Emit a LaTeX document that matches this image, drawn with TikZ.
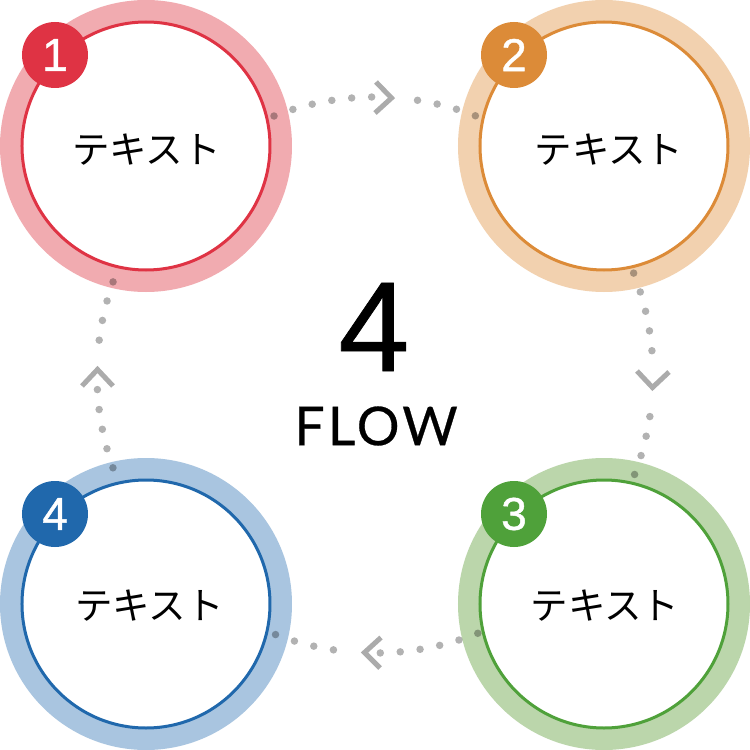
\documentclass[tikz,border=0pt]{standalone}
\usepackage{fontspec}
\setmainfont{Liberation Sans}
\newfontfamily\jpfont{Noto Sans CJK JP}
\newfontfamily\flowfont[LetterSpace=6,FakeBold=0.5]{Lato}
\newfontfamily\bigfont[FakeBold=0.6]{Liberation Sans}
\newfontfamily\badgefont[FakeBold=1]{Liberation Sans}
\definecolor{redD}{HTML}{DF3344}\definecolor{redL}{HTML}{F1ABB0}
\definecolor{oraD}{HTML}{DC8B38}\definecolor{oraL}{HTML}{F2D1AF}
\definecolor{greD}{HTML}{4FA13A}\definecolor{greL}{HTML}{BBD6AB}
\definecolor{bluD}{HTML}{2068AC}\definecolor{bluL}{HTML}{A9C5E0}
\definecolor{chev}{HTML}{ABABAB}
\tikzset{
  x=1pt,y=1pt,
  halo/.style={circle,fill=#1,draw=none,minimum size=292pt,inner sep=0pt,outer sep=0pt},
  ringin/.style={circle,fill=white,draw=#1,line width=3pt,minimum size=248pt,inner sep=0pt,outer sep=0pt},
  badge/.style={circle,fill=#1,draw=none,minimum size=66pt,inner sep=0pt,text=white,font=\badgefont\fontsize{46}{46}\selectfont},
  label/.style={font=\jpfont\fontsize{37.5}{37.5}\selectfont,inner sep=0pt,text=black},
  dotpath/.style={draw=black,draw opacity=.3,line width=7.5pt,line cap=round,dash pattern=on 0pt off #1},
  chevron/.style={draw=chev,line width=5pt,miter limit=10},
}
\begin{document}
\begin{tikzpicture}
\useasboundingbox[fill=white] (-375,-375) rectangle (375,375);
% rings
\node[halo=redL] (h1) at (-229,229) {};
\node[halo=oraL] (h2) at (229,229) {};
\node[halo=greL] (h3) at (229,-229) {};
\node[halo=bluL] (h4) at (-229,-229) {};
\node[ringin=redD] (r1) at (-229,229) {};
\node[ringin=oraD] (r2) at (229,229) {};
\node[ringin=greD] (r3) at (229,-229) {};
\node[ringin=bluD] (r4) at (-229,-229) {};
% labels
\node[label] (t1) at (-228.5,225) {テキスト};
\node[label] (t2) at (234,225) {テキスト};
\node[label] (t3) at (230,-231) {テキスト};
\node[label] (t4) at (-225.5,-231) {テキスト};
% badges
\node[badge=redD] (b1) at (-320,320) {1};
\node[badge=oraD] (b2) at (139,320) {2};
\node[badge=greD] (b3) at (139,-139) {3};
\node[badge=bluD] (b4) at (-320,-139) {4};
% centre
\node[inner sep=0pt,font=\bigfont\fontsize{128}{128}\selectfont] (big) at (-1,48) {4};
\node[inner sep=0pt,font=\flowfont\fontsize{53.5}{53.5}\selectfont] (flow) at (1,-51) {FLOW};
% connector anchors on the big circle
\coordinate (a1) at (111.3:278); \coordinate (a2) at (81.2:278);
\coordinate (c1) at (21.5:278);  \coordinate (c2) at (-8.6:278);
\coordinate (e1) at (-68.3:278); \coordinate (e2) at (-98.6:278);
\coordinate (g1) at (199.5:278); \coordinate (g2) at (172.8:278);
\def\dotgap{20pt}
\draw[dotpath=\dotgap] (a1) arc[start angle=111.3,end angle=90,radius=278pt];
\draw[dotpath=\dotgap] (a2) arc[start angle=81.2,end angle=68.5,radius=278pt];
\draw[dotpath=\dotgap] (c1) arc[start angle=21.5,end angle=1,radius=278pt];
\draw[dotpath=\dotgap] (c2) arc[start angle=-8.6,end angle=-21,radius=278pt];
\draw[dotpath=\dotgap] (e1) arc[start angle=-68.3,end angle=-89,radius=278pt];
\draw[dotpath=\dotgap] (e2) arc[start angle=-98.6,end angle=-111.5,radius=278pt];
\draw[dotpath=\dotgap] (g1) arc[start angle=199.5,end angle=183,radius=278pt];
\draw[dotpath=\dotgap] (g2) arc[start angle=172.8,end angle=160,radius=278pt];
% chevrons
\draw[chevron] (1,293) -- (16.5,277) -- (0,262);
\draw[chevron] (262,4) -- (277.5,-12.5) -- (294,3);
\draw[chevron] (6,-262.5) -- (-10.5,-277.5) -- (5,-293);
\draw[chevron] (-293,-11) -- (-277.5,5.5) -- (-262,-11);
\end{tikzpicture}
\end{document}
